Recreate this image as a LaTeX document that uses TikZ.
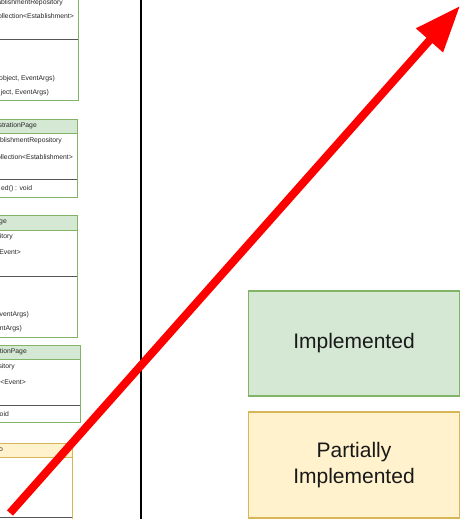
\documentclass[tikz,border=0pt]{standalone}
\usepackage{fontspec}
\setmainfont{Liberation Sans}
\usetikzlibrary{arrows.meta}
\definecolor{implfill}{HTML}{D5E8D4}
\definecolor{implline}{HTML}{82B366}
\definecolor{partfill}{HTML}{FFF2CC}
\definecolor{partline}{HTML}{D6B656}
\definecolor{sepline}{HTML}{555555}
\definecolor{arrowred}{HTML}{FF0000}

\begin{document}
\begin{tikzpicture}[x=1pt,y=-1pt,
  umltext/.style={anchor=east,inner sep=0pt,font=\fontsize{6.8}{8}\selectfont,text=black!85},
  classbody/.style={draw=implline,line width=0.8pt,fill=white},
  classhead/.style={draw=#1line,line width=0.8pt,fill=#1fill},
  separator/.style={draw=sepline,line width=0.7pt},
  legendbox/.style={draw=#1line,fill=#1fill,line width=1.5pt,minimum width=211pt,
    align=center,font=\fontsize{21}{26}\selectfont,text=black!90,inner sep=0pt},
  bigarrow/.style={draw=arrowred,line width=8pt,-{Triangle[length=46pt,width=34pt]}}]
\useasboundingbox (0,0) rectangle (461,519);
\clip (0,0) rectangle (461,519);

% class diagrams on the left, running off the page edge
% class 1
\draw[classbody] (-80,-20) rectangle (78,100);
\draw[separator] (-80,39) -- (78,39);
\node[umltext] (c1a) at (63,3) {stablishmentRepository};
\node[umltext] (c1b) at (74,16) {ollection<Establishment>};
\node[umltext] (c1c) at (55,79) {object, EventArgs)};
\node[umltext] (c1d) at (49,93) {ject, EventArgs)};

% class 2
\draw[classbody] (-80,133) rectangle (77,197);
\draw[classhead=impl] (-80,119) rectangle (77,133);
\draw[separator] (-80,179) -- (77,179);
\node[umltext] (c2h) at (37,126) {strationPage};
\node[umltext] (c2a) at (62,141) {ablishmentRepository};
\node[umltext] (c2b) at (73,157) {ollection<Establishment>};
\node[umltext,anchor=west] (c2c) at (1,189) {ed() : void};

% class 3
\draw[classbody] (-80,230) rectangle (77,337);
\draw[classhead=impl] (-80,215) rectangle (77,230);
\draw[separator] (-80,276) -- (77,276);
\node[umltext] (c3h) at (7,222) {ge};
\node[umltext] (c3a) at (13,237) {itory};
\node[umltext] (c3b) at (21,252) {<Event>};
\node[umltext] (c3c) at (29,315) {ventArgs)};
\node[umltext] (c3d) at (22,329) {ntArgs)};

% class 4
\draw[classbody] (-80,359) rectangle (80,422);
\draw[classhead=impl] (-80,345) rectangle (80,359);
\draw[separator] (-80,405) -- (80,405);
\node[umltext] (c4h) at (27,352) {ationPage};
\node[umltext] (c4a) at (15,367) {sitory};
\node[umltext] (c4b) at (26,382) {<Event>};
\node[umltext] (c4c) at (9,414) {oid};

% class 5 (partially implemented)
\draw[draw=partline,line width=0.8pt,fill=white] (-80,457) rectangle (72,540);
\draw[classhead=part] (-80,443) rectangle (72,457);
\draw[separator] (-80,517) -- (72,517);
\node[umltext] (c5h) at (3,450) {o};

% divider
\draw[line width=2pt] (140.5,-5) -- (140.5,525);

% legend
\node[legendbox=impl,minimum height=105pt] (impl) at (354,343.5) {Implemented};
\node[legendbox=part,minimum height=106pt] (part) at (354,465) {Partially\\Implemented};

% progress arrow
\coordinate (tail) at (10,513);
\coordinate (tip) at (460,6);
\draw[bigarrow] (tail) -- (tip);
\end{tikzpicture}
\end{document}
